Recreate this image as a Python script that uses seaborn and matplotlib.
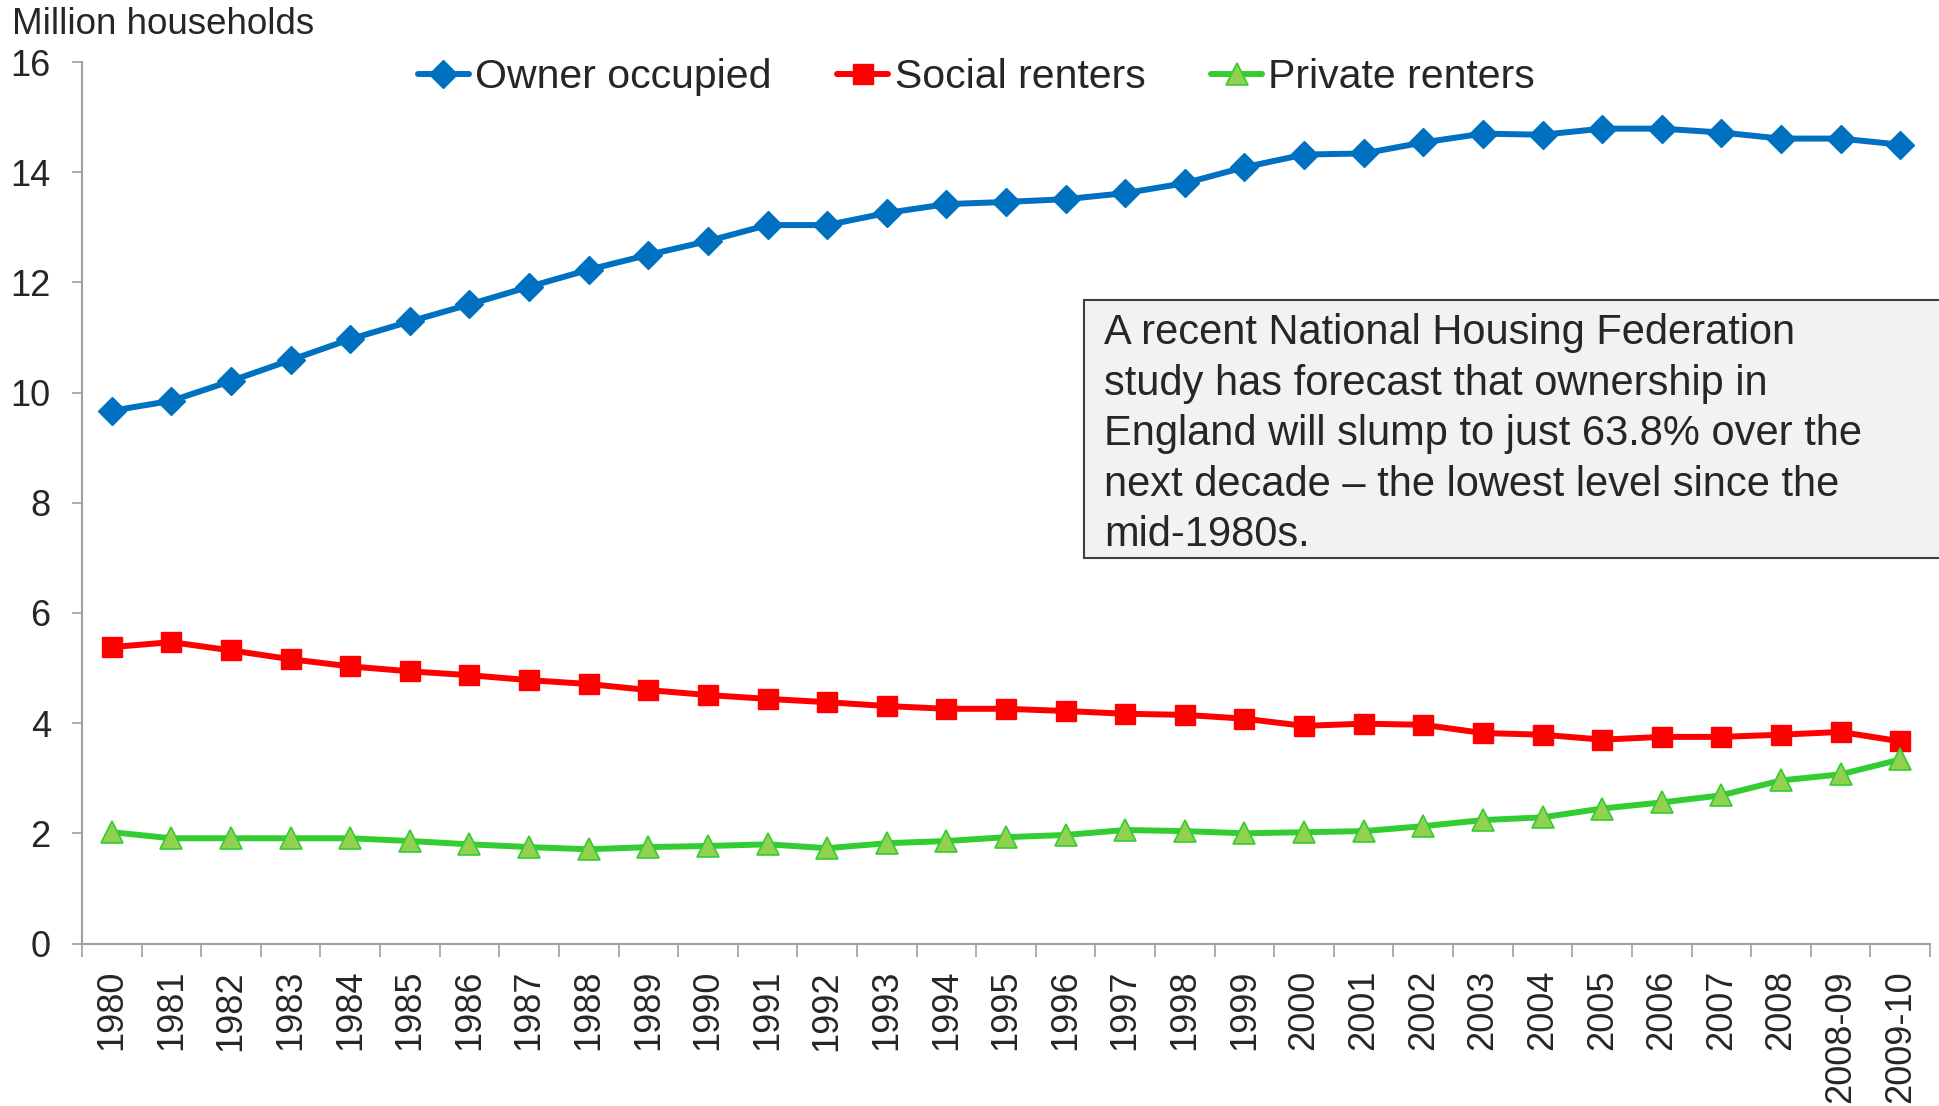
import matplotlib
matplotlib.use("Agg")
import matplotlib.pyplot as plt
from matplotlib.patches import Rectangle
import seaborn as sns
import pandas as pd

years = ["1980", "1981", "1982", "1983", "1984", "1985", "1986", "1987", "1988", "1989",
         "1990", "1991", "1992", "1993", "1994", "1995", "1996", "1997", "1998", "1999",
         "2000", "2001", "2002", "2003", "2004", "2005", "2006", "2007", "2008",
         "2008-09", "2009-10"]

owner_occupied = [9.67, 9.85, 10.21, 10.59, 10.97, 11.29, 11.60, 11.92, 12.23, 12.50,
                  12.75, 13.04, 13.04, 13.26, 13.42, 13.46, 13.51, 13.62, 13.80, 14.09,
                  14.32, 14.34, 14.54, 14.70, 14.68, 14.79, 14.79, 14.72, 14.61,
                  14.61, 14.50]

social_renters = [5.38, 5.47, 5.32, 5.16, 5.03, 4.94, 4.87, 4.78, 4.71, 4.60,
                  4.51, 4.44, 4.38, 4.31, 4.26, 4.26, 4.22, 4.17, 4.15, 4.08,
                  3.95, 3.99, 3.97, 3.82, 3.79, 3.70, 3.75, 3.75, 3.79,
                  3.84, 3.67]

private_renters = [2.02, 1.91, 1.91, 1.91, 1.91, 1.86, 1.80, 1.75, 1.71, 1.75,
                   1.77, 1.80, 1.73, 1.82, 1.86, 1.93, 1.97, 2.06, 2.04, 2.00,
                   2.02, 2.04, 2.13, 2.24, 2.29, 2.45, 2.56, 2.69, 2.96,
                   3.07, 3.34]

series_names = ["Owner occupied", "Social renters", "Private renters"]
y_ticks = [0, 2, 4, 6, 8, 10, 12, 14, 16]
y_label = "Million households"
note = ("A recent National Housing Federation\n"
        "study has forecast that ownership in\n"
        "England will slump to just 63.8% over the\n"
        "next decade \u2013 the lowest level since the\n"
        "mid-1980s.")

sns.set_style("white")
plt.rcParams['font.family'] = ['Liberation Sans', 'DejaVu Sans']

W, H = 1939, 1106
fig = plt.figure(figsize=(W / 100, H / 100), dpi=100)
ax = fig.add_axes([82 / W, 1 - 943.5 / H, (1930 - 82) / W, (943.5 - 62) / H])

df = pd.DataFrame({"year": years, "owner": owner_occupied,
                   "social": social_renters, "private": private_renters})

sns.lineplot(data=df, x="year", y="owner", ax=ax, sort=False, color="#0070C0",
             lw=4.3, marker="D", markersize=14, markerfacecolor="#0070C0",
             markeredgecolor="#0070C0", markeredgewidth=1, label=series_names[0])
sns.lineplot(data=df, x="year", y="social", ax=ax, sort=False, color="#FF0000",
             lw=4.3, marker="s", markersize=15, markerfacecolor="#FF0000",
             markeredgecolor="#FF0000", markeredgewidth=1, label=series_names[1])
sns.lineplot(data=df, x="year", y="private", ax=ax, sort=False, color="#33CC33",
             lw=4.3, marker="^", markersize=16, markerfacecolor="#92D050",
             markeredgecolor="#33CC33", markeredgewidth=1.2, label=series_names[2])

ax.set_xlim(-0.5, len(years) - 0.5)
ax.set_ylim(0, 16)
ax.set_yticks(y_ticks)
ax.set_yticklabels([str(t) for t in y_ticks])
ax.set_xticks(range(len(years)))
ax.set_xticklabels(years, rotation=90)
ax.set_xticks([i - 0.5 for i in range(len(years) + 1)], minor=True)
ax.set_xlabel("")
ax.set_ylabel("")

for s in ["top", "right"]:
    ax.spines[s].set_visible(False)
for s in ["left", "bottom"]:
    ax.spines[s].set_color("#a0a0a0")
    ax.spines[s].set_linewidth(1.5)

ax.tick_params(axis="y", which="major", direction="out", length=7.5, width=1.2,
               color="#a0a0a0", labelsize=26, labelcolor="#262626", pad=15, left=True)
ax.tick_params(axis="x", which="major", length=0, labelsize=26, labelcolor="#262626", pad=19)
ax.tick_params(axis="x", which="minor", direction="out", length=9, width=1.2,
               color="#a0a0a0", bottom=True)

leg = ax.legend(loc="center", bbox_to_anchor=(0.484, 0.983), ncol=3, frameon=False,
                fontsize=29.5, handlelength=1.25, handletextpad=0.15,
                columnspacing=1.6, numpoints=1, labelcolor="#262626")

fig.text(12 / W, 1 - 34 / H, y_label, fontsize=26.5, color="#262626",
         ha="left", va="baseline")

rect = Rectangle((1084 / W, 1 - 558 / H), 1.0, (558 - 300) / H,
                 transform=fig.transFigure, facecolor="#f2f2f2",
                 edgecolor="#404040", linewidth=1.5, zorder=5)
fig.patches.append(rect)
fig.text(1104 / W, 1 - 313 / H, note, fontsize=30, color="#262626",
         ha="left", va="top", linespacing=1.34, zorder=6)

fig.savefig("out.png", dpi=100)
